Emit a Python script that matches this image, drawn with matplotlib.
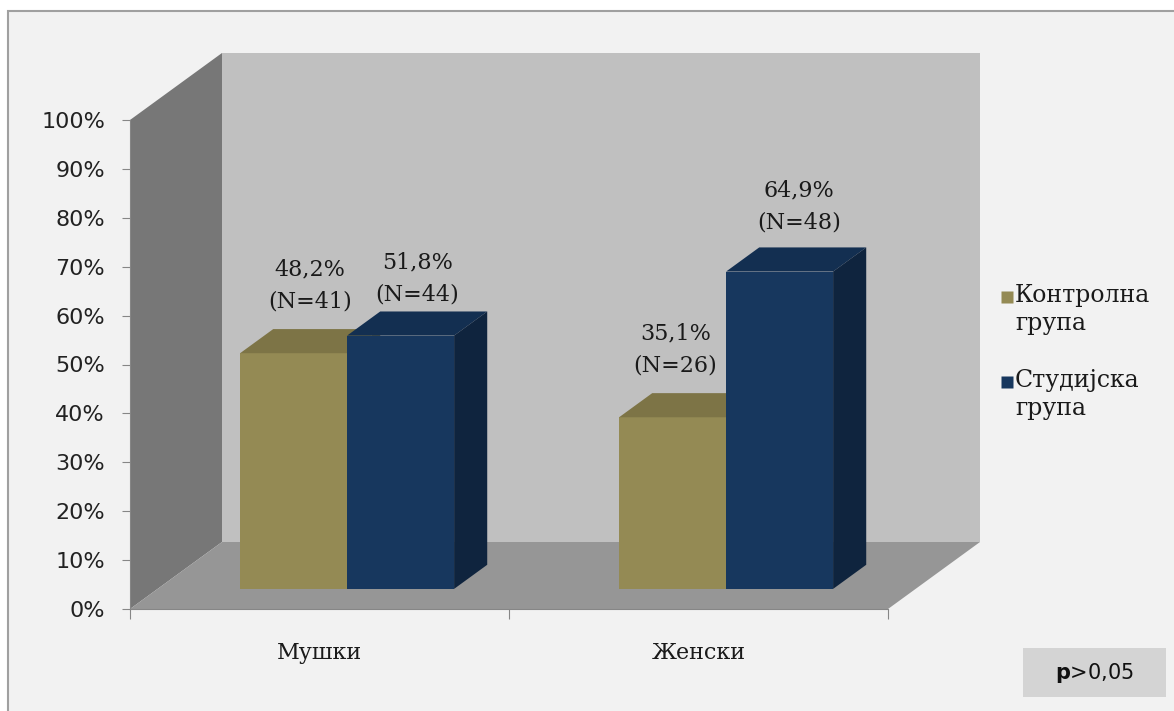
import matplotlib.pyplot as plt
import numpy as np
from matplotlib.lines import Line2D
from matplotlib.patches import Polygon, Rectangle

categories = ["Мушки", "Женски"]
series = ["Контролна\nгрупа", "Студијска\nгрупа"]
control_pct = [48.2, 35.1]
study_pct = [51.8, 64.9]
control_n = [41, 26]
study_n = [44, 48]
y_ticks = [0, 10, 20, 30, 40, 50, 60, 70, 80, 90, 100]

W, H = 1174, 711

# oblique depth: full depth shifts by DX categories and DY percent
DX = 92 / 379
DY = 67 / 4.89
BAR_D0, BAR_D1 = 0.30, 0.66
BAR_W = 107 / 379

FACE = {
    "control": ("#948a54", "#7d7446", "#6a623b"),
    "study": ("#17375e", "#132f51", "#0f243e"),
}
SERIF = "DejaVu Serif"


def proj(x, y, d):
    return (x + d * DX, y + d * DY)


def face(ax, pts, color, z):
    ax.add_patch(Polygon([proj(*p) for p in pts], closed=True, facecolor=color,
                         edgecolor="none", clip_on=False, zorder=z))


def draw_bar(ax, x0, value, colors, z):
    front, top, side = colors
    x1 = x0 + BAR_W
    d0, d1 = BAR_D0, BAR_D1
    face(ax, [(x0, 0, d0), (x1, 0, d0), (x1, value, d0), (x0, value, d0)], front, z)
    face(ax, [(x0, value, d0), (x1, value, d0), (x1, value, d1), (x0, value, d1)], top, z)
    face(ax, [(x1, 0, d0), (x1, 0, d1), (x1, value, d1), (x1, value, d0)], side, z)


fig = plt.figure(figsize=(W / 100, H / 100), dpi=100)
fig.patch.set_facecolor("white")
fig.patches.append(Rectangle((8 / W, -0.05), 1.05, (711 - 11) / H + 0.05,
                             transform=fig.transFigure, facecolor="#f2f2f2",
                             edgecolor="#a0a0a0", linewidth=1.5, zorder=-5))

ax = fig.add_axes([130 / W, (H - 609) / H, 758 / W, 489 / H])
ax.set_facecolor("none")
ax.set_xlim(0, 2)
ax.set_ylim(0, 100)

# walls and floor
face(ax, [(0, 0, 1), (2, 0, 1), (2, 100, 1), (0, 100, 1)], "#c0c0c0", 1)
face(ax, [(0, 0, 0), (0, 100, 0), (0, 100, 1), (0, 0, 1)], "#777777", 2)
face(ax, [(0, 0, 0), (2, 0, 0), (2, 0, 1), (0, 0, 1)], "#969696", 2)

# label nudges (dx, dy in points) to keep neighbouring labels apart
nudge = {(0, 1): (0, -8), (1, 0): (-10, 0), (1, 1): (2, -2)}

z = 3
for i in range(len(categories)):
    for j, (vals, ns, key) in enumerate([(control_pct, control_n, "control"),
                                         (study_pct, study_n, "study")]):
        x0 = i + 0.5 - BAR_W + j * BAR_W
        v = vals[i]
        draw_bar(ax, x0, v, FACE[key], z)
        z += 1
        xt = x0 + BAR_W / 2 + (BAR_D0 + BAR_D1) / 2 * DX
        yt = v + BAR_D1 * DY
        ndx, ndy = nudge.get((i, j), (0, 0))
        lbl = f"{v:.1f}%".replace(".", ",") + f"\n(N={ns[i]})"
        ax.annotate(lbl, xy=(xt, yt), xytext=(ndx, 12 + ndy),
                    textcoords="offset points", ha="center", va="bottom",
                    fontsize=16, family=SERIF, color="#1a1a1a",
                    linespacing=1.6, zorder=20, annotation_clip=False)

for s in ["top", "right"]:
    ax.spines[s].set_visible(False)
for s in ["left", "bottom"]:
    ax.spines[s].set_color("#868686")
    ax.spines[s].set_linewidth(0.8)
    ax.spines[s].set_zorder(10)

ax.set_yticks(y_ticks)
ax.set_yticklabels([f"{t}%" for t in y_ticks], fontsize=16,
                   family="DejaVu Sans", color="#222222")
ax.tick_params(axis="y", length=6, width=0.8, color="#868686", pad=12)

ax.set_xticks([0, 1, 2])
ax.set_xticklabels([])
ax.tick_params(axis="x", which="major", length=7, width=0.8, color="#868686")
ax.set_xticks(np.arange(len(categories)) + 0.5, minor=True)
ax.set_xticklabels(categories, minor=True, fontsize=16,
                   family=SERIF, color="#1a1a1a")
ax.tick_params(axis="x", which="minor", length=0, pad=24)

# legend: square key aligned with the first line of each entry
for k, (key, name) in enumerate(zip(["control", "study"], series)):
    yk = 1 - (297 + k * 85) / H
    fig.add_artist(Line2D([1007 / W], [yk], marker="s", markersize=8,
                          markerfacecolor=FACE[key][0], markeredgecolor="none",
                          linestyle="none", transform=fig.transFigure))
    fig.text(1015 / W, yk + 13 / H, name, ha="left", va="top", fontsize=17,
             family=SERIF, color="#1a1a1a", linespacing=1.3)

fig.patches.append(Rectangle((1023 / W, 1 - 697 / H), 143 / W, 49 / H,
                             transform=fig.transFigure, facecolor="#d4d4d4",
                             edgecolor="none", zorder=1))
fig.text(1095 / W, 1 - 673 / H, r"$\mathbf{p}$>0,05", ha="center", va="center",
         fontsize=15, family="DejaVu Sans", color="#111111")

fig.savefig("out.png", dpi=100)
